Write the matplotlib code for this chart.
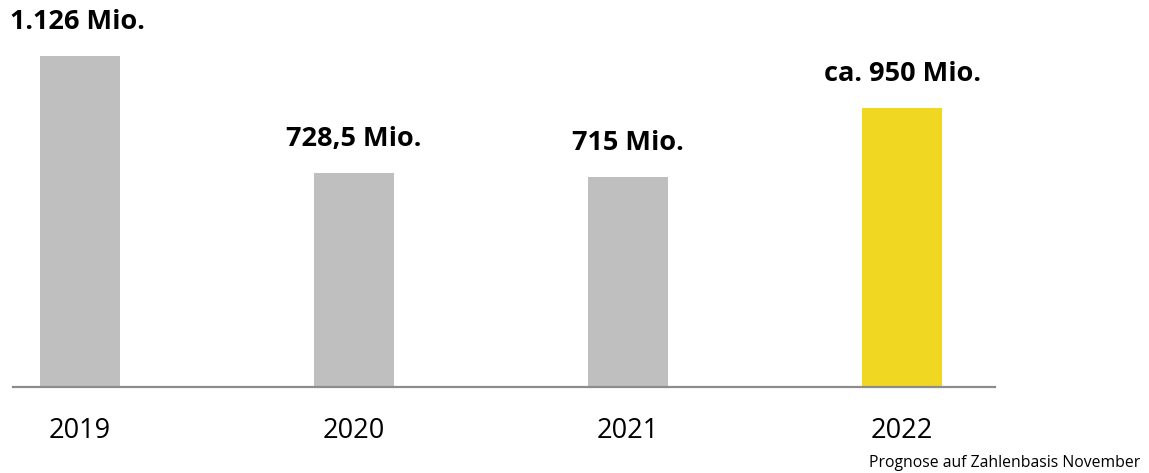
import matplotlib
matplotlib.use("Agg")
import matplotlib.pyplot as plt

# Daten
jahre = ["2019", "2020", "2021", "2022"]
werte = [1126, 728.5, 715, 950]
beschriftungen = ["1.126 Mio.", "728,5 Mio.", "715 Mio.", "ca. 950 Mio."]
farben = ["#bfbfbf", "#bfbfbf", "#bfbfbf", "#f0d722"]
fussnote = "Prognose auf Zahlenbasis November"

plt.rcParams["font.family"] = ["Open Sans", "DejaVu Sans"]

W, H = 1149, 473
fig = plt.figure(figsize=(W / 100, H / 100), dpi=100)

# Achse in Pixelkoordinaten: Basislinie bei y=387, von x=13 bis x=995
x_links, x_rechts, y_basis = 13, 995, 387
ax = fig.add_axes([x_links / W, 1 - y_basis / H, (x_rechts - x_links) / W, y_basis / H])

pos = list(range(len(jahre)))
ax.bar(pos, werte, width=0.292, color=farben, zorder=2)

# Skalen so gewählt, dass 2019-Balken bei x≈80 px und Höhe 331 px
abstand = 274
ax.set_xlim((x_links - 80) / abstand, (x_rechts - 80) / abstand)
ax.set_ylim(0, y_basis / 331 * 1126)

for s in ["top", "right", "left"]:
    ax.spines[s].set_visible(False)
ax.spines["bottom"].set_color("#8c8c8c")
ax.spines["bottom"].set_linewidth(1.6)
ax.set_xticks([])
ax.set_yticks([])

for i, (w, txt) in enumerate(zip(werte, beschriftungen)):
    if i == 0:
        # erstes Label links oben
        ax.annotate(txt, xy=(i, w), xycoords="data",
                    xytext=(10, 1 - 22 / H), textcoords=("figure pixels", "figure fraction"),
                    ha="left", va="center", fontsize=19.5, fontweight="bold",
                    fontstretch="condensed")
    else:
        ax.annotate(txt, xy=(i, w), xytext=(0, 24.5), textcoords="offset points",
                    ha="center", va="center", fontsize=19.5, fontweight="bold",
                    fontstretch="condensed")
    ax.annotate(jahre[i], xy=(i, 0), xytext=(0, -31.5), textcoords="offset points",
                ha="center", va="center", fontsize=19.5, annotation_clip=False)

fig.text(1140 / W, 1 - 463 / H, fussnote, ha="right", va="center", fontsize=11.3)

fig.savefig("out.png", dpi=100)
